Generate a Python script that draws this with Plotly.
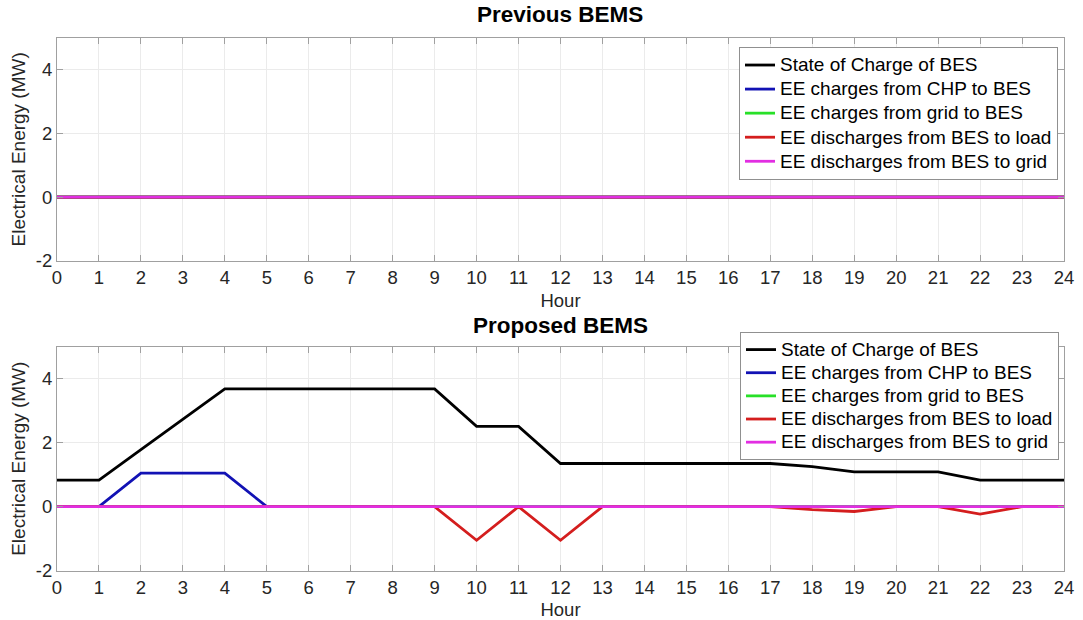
import plotly.graph_objects as go

hours = list(range(25))
series_names = [
    "State of Charge of BES",
    "EE charges from CHP to BES",
    "EE charges from grid to BES",
    "EE discharges from BES to load",
    "EE discharges from BES to grid",
]
colors = ["#000000", "#1212b4", "#28e028", "#d41e1e", "#e22ee2"]

# Previous BEMS: all series at zero
prev_soc = [0] * 25
prev_chp = [0] * 25
prev_grid_in = [0] * 25
prev_load = [0] * 25
prev_grid_out = [0] * 25

# Proposed BEMS
prop_soc = [0.83, 0.83, 1.78, 2.73, 3.68, 3.68, 3.68, 3.68, 3.68, 3.68,
            2.51, 2.51, 1.35, 1.35, 1.35, 1.35, 1.35, 1.35, 1.25, 1.09,
            1.09, 1.09, 0.83, 0.83, 0.83]
prop_chp = [0, 0, 1.05, 1.05, 1.05, 0, 0, 0, 0, 0, 0, 0, 0, 0, 0, 0, 0, 0,
            0, 0, 0, 0, 0, 0, 0]
prop_grid_in = [0] * 25
prop_load = [0, 0, 0, 0, 0, 0, 0, 0, 0, 0, -1.05, 0, -1.05, 0, 0, 0, 0, 0,
             -0.09, -0.15, 0, 0, -0.23, 0, 0]
prop_grid_out = [0] * 25

prev = [prev_soc, prev_chp, prev_grid_in, prev_load, prev_grid_out]
prop = [prop_soc, prop_chp, prop_grid_in, prop_load, prop_grid_out]

FONT = "Liberation Sans, Arial, Helvetica, sans-serif"
W, H = 1083, 620

def label(name):
    return '<span style="font-size:19px">' + name + '</span>'

fig = go.Figure()
for name, col, ys in zip(series_names, colors, prev):
    fig.add_trace(go.Scatter(x=hours, y=ys, mode="lines", name=label(name),
                             line=dict(color=col, width=2.8),
                             xaxis="x", yaxis="y", legend="legend"))
for name, col, ys in zip(series_names, colors, prop):
    fig.add_trace(go.Scatter(x=hours, y=ys, mode="lines", name=label(name),
                             line=dict(color=col, width=2.8),
                             xaxis="x2", yaxis="y2", legend="legend2"))

x0, x1 = 57 / W, 1064 / W
top_dom = [1 - 261 / H, 1 - 37.7 / H]
bot_dom = [1 - 570.7 / H, 1 - 346.7 / H]

def xax(anchor):
    return dict(domain=[x0, x1], anchor=anchor, range=[0, 24], tickmode="array",
                tickvals=hours, ticktext=[str(h) for h in hours],
                showgrid=True, gridcolor="#ebebeb", gridwidth=1,
                showline=True, linecolor="#a0a0a0", linewidth=1, mirror="ticks",
                ticks="inside", ticklen=6, tickcolor="#a0a0a0",
                tickfont=dict(size=18.5, color="#262626", family=FONT),
                title=dict(text="Hour", font=dict(size=18.5, color="#262626", family=FONT),
                           standoff=6),
                zeroline=False)

def yax(anchor, dom):
    return dict(domain=dom, anchor=anchor, range=[-2, 5], tickmode="array",
                tickvals=[-2, 0, 2, 4], ticktext=["-2", "0", "2", "4"],
                showgrid=True, gridcolor="#ebebeb", gridwidth=1,
                showline=True, linecolor="#a0a0a0", linewidth=1, mirror="ticks",
                ticks="inside", ticklen=6, tickcolor="#a0a0a0",
                tickfont=dict(size=18.5, color="#262626", family=FONT),
                title=dict(text="Electrical Energy (MW)",
                           font=dict(size=19, color="#262626", family=FONT), standoff=5),
                zeroline=False)

fig.update_layout(
    width=W, height=H,
    margin=dict(l=0, r=0, t=0, b=0, autoexpand=False),
    paper_bgcolor="white", plot_bgcolor="white",
    font=dict(family=FONT, color="#262626"),
    xaxis=xax("y"), yaxis=yax("x", top_dom),
    xaxis2=xax("y2"), yaxis2=yax("x2", bot_dom),
    legend=dict(x=1058 / W, y=1 - 47 / H, xanchor="right", yanchor="top",
                bgcolor="white", bordercolor="#909090", borderwidth=1,
                font=dict(size=16.2, color="#000000", family=FONT),
                itemwidth=30, tracegroupgap=0),
    legend2=dict(x=1059 / W, y=1 - 332 / H, xanchor="right", yanchor="top",
                 bgcolor="white", bordercolor="#909090", borderwidth=1,
                 font=dict(size=15.5, color="#000000", family=FONT),
                 itemwidth=30, tracegroupgap=0),
    showlegend=True,
    annotations=[
        dict(text="<b>Previous BEMS</b>", x=(x0 + x1) / 2, y=1 - 15 / H,
             xref="paper", yref="paper", showarrow=False,
             xanchor="center", yanchor="middle",
             font=dict(size=22.5, color="#000000", family=FONT)),
        dict(text="<b>Proposed BEMS</b>", x=(x0 + x1) / 2, y=1 - 325 / H,
             xref="paper", yref="paper", showarrow=False,
             xanchor="center", yanchor="middle",
             font=dict(size=22.5, color="#000000", family=FONT)),
    ],
)

fig.write_html("out.html")
